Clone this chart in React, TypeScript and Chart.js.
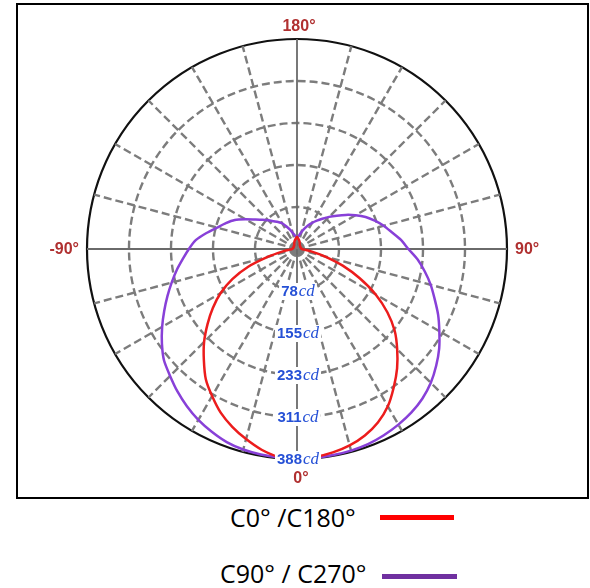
import React, { useEffect, useRef } from "react";
import { Chart, registerables } from "chart.js";

Chart.register(...registerables);

// Angular categories, 5° apart, starting at 0° (bottom) and running clockwise on screen
const ANGLES: string[] = [
  "0", "-5", "-10", "-15", "-20", "-25", "-30", "-35", "-40", "-45", "-50", "-55",
  "-60", "-65", "-70", "-75", "-80", "-85", "-90", "-95", "-100", "-105", "-110", "-115",
  "-120", "-125", "-130", "-135", "-140", "-145", "-150", "-155", "-160", "-165", "-170", "-175",
  "180", "175", "170", "165", "160", "155", "150", "145", "140", "135", "130", "125",
  "120", "115", "110", "105", "100", "95", "90", "85", "80", "75", "70", "65",
  "60", "55", "50", "45", "40", "35", "30", "25", "20", "15", "10", "5",
];

// C0° / C180° intensity (cd)
const C0_C180: number[] = [
  388, 386, 377, 364, 350, 334, 314, 294, 268, 243, 216, 190,
  163, 132, 96, 55, 28, 14, 9, 8, 8, 8, 7, 7,
  7, 7, 8, 8, 8, 9, 10, 12, 14, 16, 18, 20,
  22, 20, 18, 16, 14, 12, 10, 9, 8, 8, 8, 7,
  7, 7, 7, 8, 8, 8, 9, 14, 28, 54, 90, 128,
  168, 204, 236, 262, 288, 312, 336, 354, 367, 376, 382, 386,
];

// C90° / C270° intensity (cd)
const C90_C270: number[] = [
  388, 387, 386, 384, 380, 373, 365, 355, 344, 332, 321, 305,
  288, 271, 255, 240, 226, 212, 200, 188, 170, 153, 140, 127,
  110, 95, 84, 75, 67, 61, 55, 46, 38, 31, 26, 23,
  20, 23, 27, 33, 40, 48, 56, 64, 73, 84, 96, 110,
  125, 140, 153, 166, 178, 193, 206, 224, 240, 256, 271, 288,
  304, 321, 336, 350, 361, 369, 375, 380, 384, 386, 387, 388,
];

const RADIAL_TICK_LABELS: string[] = ["78", "155", "233", "311", "388"];
const R_MAX = 388.4;

const CARDINAL_LABELS: { angle: string; text: string }[] = [
  { angle: "180", text: "180°" },
  { angle: "90", text: "90°" },
  { angle: "0", text: "0°" },
  { angle: "-90", text: "-90°" },
];

const SERIES_NAMES = ["C0° /C180°", "C90° / C270°"];
const RED = "#ec1c1c";
const PURPLE = "#8840d8";
const TICK_BLUE = "#2550d6";
const CARD_RED = "#b03030";
const GRID_GREY = "#7c7c7c";

const polarLabels = {
  id: "polarLabels",
  afterDatasetsDraw(chart: any) {
    const s = chart.scales.r;
    const ctx = chart.ctx as CanvasRenderingContext2D;
    ctx.save();
    ctx.textBaseline = "middle";
    const numFont = 'bold 15px "Liberation Sans", Arial, sans-serif';
    const unitFont = 'italic 17px "Liberation Serif", "DejaVu Serif", serif';
    s.ticks.forEach((t: any, i: number) => {
      if (i === 0) return;
      const label = RADIAL_TICK_LABELS[i - 1];
      if (!label) return;
      const p = s.getPointPositionForValue(0, t.value);
      ctx.font = numFont;
      const w1 = ctx.measureText(label).width;
      ctx.font = unitFont;
      const w2 = ctx.measureText("cd").width;
      const w = w1 + w2 + 1;
      const x0 = p.x - w / 2 + 1;
      ctx.fillStyle = "#ffffff";
      ctx.fillRect(x0 - 2, p.y - 8, w + 4, 17);
      ctx.textAlign = "left";
      ctx.fillStyle = TICK_BLUE;
      ctx.font = numFont;
      ctx.fillText(label, x0, p.y + 1);
      ctx.font = unitFont;
      ctx.fillText("cd", x0 + w1 + 1, p.y + 1);
    });
    ctx.font = 'bold 16px "Liberation Sans", Arial, sans-serif';
    ctx.fillStyle = CARD_RED;
    CARDINAL_LABELS.forEach((c) => {
      const idx = ANGLES.indexOf(c.angle);
      const p = s.getPointPosition(idx, s.drawingArea);
      if (c.angle === "180") {
        ctx.textAlign = "center";
        ctx.textBaseline = "bottom";
        ctx.fillText(c.text, p.x + 2, p.y - 4);
      } else if (c.angle === "0") {
        ctx.textAlign = "center";
        ctx.textBaseline = "top";
        ctx.fillText(c.text, p.x + 4, p.y + 12);
      } else if (c.angle === "90") {
        ctx.textAlign = "left";
        ctx.textBaseline = "middle";
        ctx.fillText(c.text, p.x + 8, p.y + 1);
      } else {
        ctx.textAlign = "right";
        ctx.textBaseline = "middle";
        ctx.fillText(c.text, p.x - 8, p.y + 1);
      }
    });
    ctx.restore();
  },
};

export default function App() {
  const ref = useRef<HTMLCanvasElement | null>(null);

  useEffect(() => {
    if (!ref.current) return;
    const chart = new Chart(ref.current, {
      type: "radar",
      data: {
        labels: ANGLES,
        datasets: [
          {
            label: SERIES_NAMES[0],
            data: C0_C180,
            borderColor: RED,
            borderWidth: 2.5,
            fill: false,
            pointRadius: 0,
            tension: 0.2,
          },
          {
            label: SERIES_NAMES[1],
            data: C90_C270,
            borderColor: PURPLE,
            borderWidth: 2.5,
            fill: false,
            pointRadius: 0,
            tension: 0.2,
          },
        ],
      },
      options: {
        animation: false,
        responsive: false,
        layout: { padding: { left: 87, right: 83, top: 39, bottom: 41 } },
        plugins: {
          legend: { display: false },
          tooltip: { enabled: false },
        },
        scales: {
          r: {
            startAngle: 180,
            min: 0,
            max: R_MAX,
            ticks: { display: false, count: 6 },
            pointLabels: { display: false },
            grid: {
              circular: true,
              color: (c: any) => (c.index === 5 ? "#111111" : GRID_GREY),
              lineWidth: (c: any) => (c.index === 5 ? 2.2 : 2.4),
            },
            border: {
              dash: (c: any) => (c.index === 5 ? [] : [8, 4]),
            },
            angleLines: {
              display: true,
              color: (c: any) =>
                c.index % 3 !== 0 ? "rgba(0,0,0,0)" : c.index % 18 === 0 ? "#6a6a6a" : GRID_GREY,
              lineWidth: (c: any) => (c.index % 3 !== 0 ? 0 : c.index % 18 === 0 ? 1.8 : 2.4),
              borderDash: (c: any) => (c.index % 18 === 0 ? [] : [8, 4]),
            },
          },
        },
      } as any,
      plugins: [polarLabels],
    });
    return () => chart.destroy();
  }, []);

  const textStyle: React.CSSProperties = {
    position: "absolute",
    fontFamily: '"Open Sans", "Noto Sans", sans-serif',
    fontSize: 25,
    lineHeight: "30px",
    color: "#000",
    whiteSpace: "nowrap",
  };

  return (
    <div style={{ position: "absolute", left: 0, top: 0, width: 590, height: 588, background: "#fff" }}>
      <div
        style={{
          position: "absolute",
          left: 16,
          top: 3,
          width: 573,
          height: 496,
          border: "2px solid #000",
          boxSizing: "border-box",
        }}
      />
      <canvas ref={ref} width={590} height={500} style={{ position: "absolute", left: 0, top: 0 }} />
      <div style={{ ...textStyle, left: 230, top: 502 }}>{SERIES_NAMES[0]}</div>
      <div style={{ position: "absolute", left: 380, top: 515, width: 74, height: 5, background: "#ff0000" }} />
      <div style={{ ...textStyle, left: 220, top: 558 }}>{SERIES_NAMES[1]}</div>
      <div style={{ position: "absolute", left: 382, top: 574, width: 75, height: 5, background: "#7030a0" }} />
    </div>
  );
}
